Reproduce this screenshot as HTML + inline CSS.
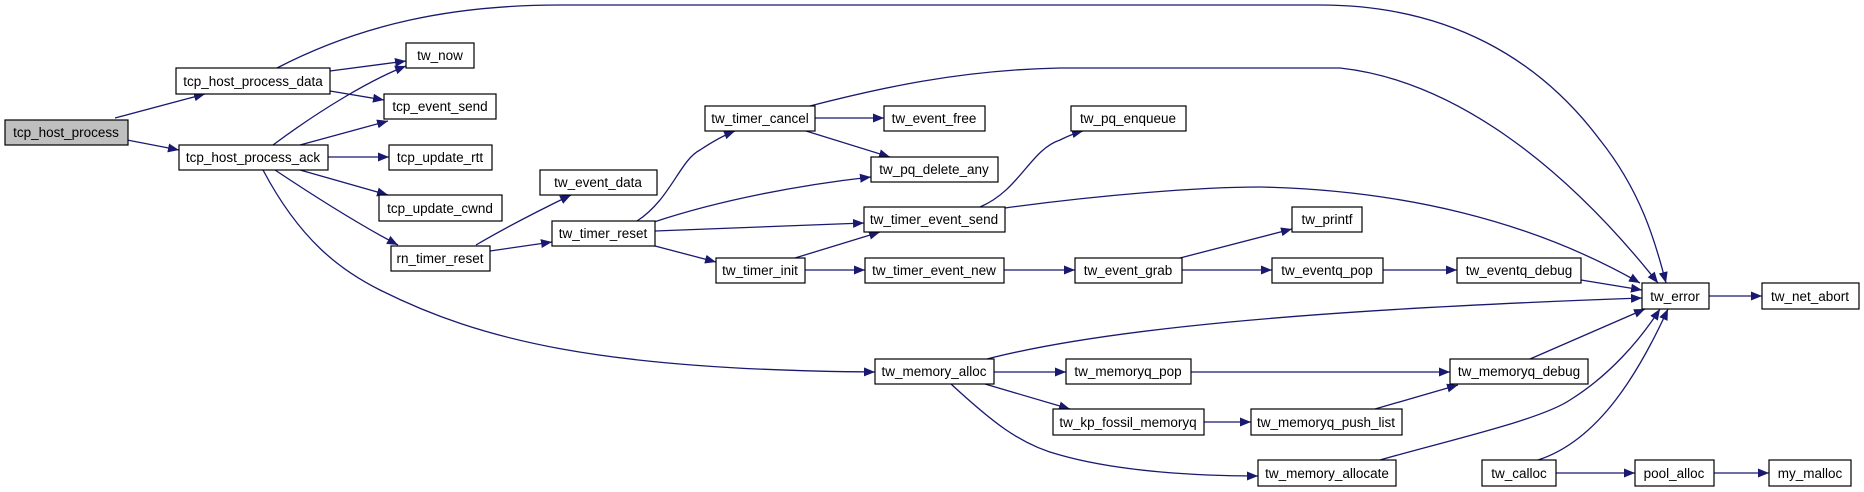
<!DOCTYPE html>
<html><head><meta charset="utf-8"><style>
html,body{margin:0;padding:0;background:#fff;}
svg{display:block}
text{font-family:"Liberation Sans",sans-serif;font-size:13.5px;fill:#000;text-anchor:middle;}
.e{fill:none;stroke:#191970;stroke-width:1.3;marker-end:url(#a)}
.n{fill:#fff;stroke:#000;stroke-width:1.2}
</style></head><body>
<svg width="1864" height="492" viewBox="0 0 1864 492" xmlns="http://www.w3.org/2000/svg">
<defs><marker id="a" markerUnits="userSpaceOnUse" markerWidth="12" markerHeight="10" refX="11" refY="4.5" orient="auto"><path d="M0,0 L11,4.5 L0,9 z" fill="#191970"/></marker></defs>
<g>
<path class="e" d="M115,118 L205,94"/>
<path class="e" d="M127,140 L179,150"/>
<path class="e" d="M277,68 C360,25 450,5 560,5 L1320,5 C1450,5 1540,60 1600,140 C1640,190 1655,240 1666,283"/>
<path class="e" d="M330,71 L406,61"/>
<path class="e" d="M330,91 L384,100"/>
<path class="e" d="M273,145 C320,110 370,80 406,66"/>
<path class="e" d="M300,145 L388,121"/>
<path class="e" d="M328,157 L389,157"/>
<path class="e" d="M300,170 L388,195"/>
<path class="e" d="M275,170 C320,200 360,225 398,245"/>
<path class="e" d="M263,170 C300,240 340,270 380,290 C480,340 600,370 875,372"/>
<path class="e" d="M476,245 C510,225 540,210 571,195"/>
<path class="e" d="M490,251 L552,242"/>
<path class="e" d="M637,221 C670,200 680,160 700,150 C712,142 722,136 735,131"/>
<path class="e" d="M654,222 C720,200 800,185 871,177"/>
<path class="e" d="M655,231 L864,223"/>
<path class="e" d="M655,246 L716,262"/>
<path class="e" d="M815,118 L884,118"/>
<path class="e" d="M806,131 L890,157"/>
<path class="e" d="M810,106 C880,88 960,70 1060,68 L1340,68 C1450,80 1560,160 1658,283"/>
<path class="e" d="M980,207 C1020,190 1030,150 1060,140 C1068,136 1075,133 1083,131"/>
<path class="e" d="M1005,208 C1100,195 1200,187 1260,187 C1400,190 1530,220 1640,283"/>
<path class="e" d="M795,258 L880,232"/>
<path class="e" d="M805,270 L865,270"/>
<path class="e" d="M1004,270 L1075,270"/>
<path class="e" d="M1180,258 L1292,229"/>
<path class="e" d="M1182,270 L1272,270"/>
<path class="e" d="M1383,270 L1457,270"/>
<path class="e" d="M1581,280 L1642,290"/>
<path class="e" d="M987,359 C1100,330 1300,310 1642,298"/>
<path class="e" d="M994,372 L1066,372"/>
<path class="e" d="M985,384 L1070,409"/>
<path class="e" d="M951,384 C990,420 1020,445 1060,455 C1120,472 1200,476 1258,476"/>
<path class="e" d="M1191,372 L1450,372"/>
<path class="e" d="M1204,422 L1251,422"/>
<path class="e" d="M1375,409 L1458,385"/>
<path class="e" d="M1530,359 L1645,309"/>
<path class="e" d="M1380,460 C1450,440 1540,420 1570,400 C1610,375 1640,340 1660,309"/>
<path class="e" d="M1538,460 C1600,440 1640,370 1668,309"/>
<path class="e" d="M1556,473 L1635,473"/>
<path class="e" d="M1714,473 L1769,473"/>
<path class="e" d="M1709,296 L1762,296"/>
</g>
<g>
<rect x="5" y="120" width="123" height="25" fill="#bfbfbf" stroke="#000" stroke-width="1.2"/><text x="66" y="137">tcp_host_process</text>
<rect class="n" x="176" y="68" width="154" height="26"/><text x="253" y="86">tcp_host_process_data</text>
<rect class="n" x="406" y="43" width="68" height="25"/><text x="440" y="60">tw_now</text>
<rect class="n" x="384" y="94" width="112" height="25"/><text x="440" y="111">tcp_event_send</text>
<rect class="n" x="179" y="145" width="149" height="25"/><text x="253" y="162">tcp_host_process_ack</text>
<rect class="n" x="389" y="145" width="103" height="25"/><text x="440" y="162">tcp_update_rtt</text>
<rect class="n" x="379" y="195" width="123" height="26"/><text x="440" y="213">tcp_update_cwnd</text>
<rect class="n" x="391" y="246" width="99" height="25"/><text x="440" y="263">rn_timer_reset</text>
<rect class="n" x="540" y="170" width="117" height="25"/><text x="598" y="187">tw_event_data</text>
<rect class="n" x="552" y="221" width="103" height="25"/><text x="603" y="238">tw_timer_reset</text>
<rect class="n" x="705" y="106" width="110" height="25"/><text x="760" y="123">tw_timer_cancel</text>
<rect class="n" x="884" y="106" width="101" height="25"/><text x="934" y="123">tw_event_free</text>
<rect class="n" x="1071" y="106" width="115" height="25"/><text x="1128" y="123">tw_pq_enqueue</text>
<rect class="n" x="871" y="157" width="127" height="25"/><text x="934" y="174">tw_pq_delete_any</text>
<rect class="n" x="864" y="207" width="141" height="25"/><text x="934" y="224">tw_timer_event_send</text>
<rect class="n" x="1292" y="207" width="70" height="25"/><text x="1327" y="224">tw_printf</text>
<rect class="n" x="716" y="258" width="89" height="25"/><text x="760" y="275">tw_timer_init</text>
<rect class="n" x="865" y="258" width="139" height="25"/><text x="934" y="275">tw_timer_event_new</text>
<rect class="n" x="1075" y="258" width="107" height="25"/><text x="1128" y="275">tw_event_grab</text>
<rect class="n" x="1272" y="258" width="111" height="25"/><text x="1327" y="275">tw_eventq_pop</text>
<rect class="n" x="1457" y="258" width="124" height="25"/><text x="1519" y="275">tw_eventq_debug</text>
<rect class="n" x="1642" y="283" width="67" height="26"/><text x="1675" y="301">tw_error</text>
<rect class="n" x="1762" y="283" width="97" height="26"/><text x="1810" y="301">tw_net_abort</text>
<rect class="n" x="875" y="359" width="119" height="25"/><text x="934" y="376">tw_memory_alloc</text>
<rect class="n" x="1066" y="359" width="125" height="25"/><text x="1128" y="376">tw_memoryq_pop</text>
<rect class="n" x="1450" y="359" width="138" height="25"/><text x="1519" y="376">tw_memoryq_debug</text>
<rect class="n" x="1053" y="409" width="151" height="26"/><text x="1128" y="427">tw_kp_fossil_memoryq</text>
<rect class="n" x="1251" y="409" width="151" height="26"/><text x="1326" y="427">tw_memoryq_push_list</text>
<rect class="n" x="1258" y="460" width="138" height="26"/><text x="1327" y="478">tw_memory_allocate</text>
<rect class="n" x="1482" y="460" width="74" height="26"/><text x="1519" y="478">tw_calloc</text>
<rect class="n" x="1635" y="460" width="79" height="26"/><text x="1674" y="478">pool_alloc</text>
<rect class="n" x="1769" y="460" width="82" height="26"/><text x="1810" y="478">my_malloc</text>
</g>
</svg>
</body></html>
